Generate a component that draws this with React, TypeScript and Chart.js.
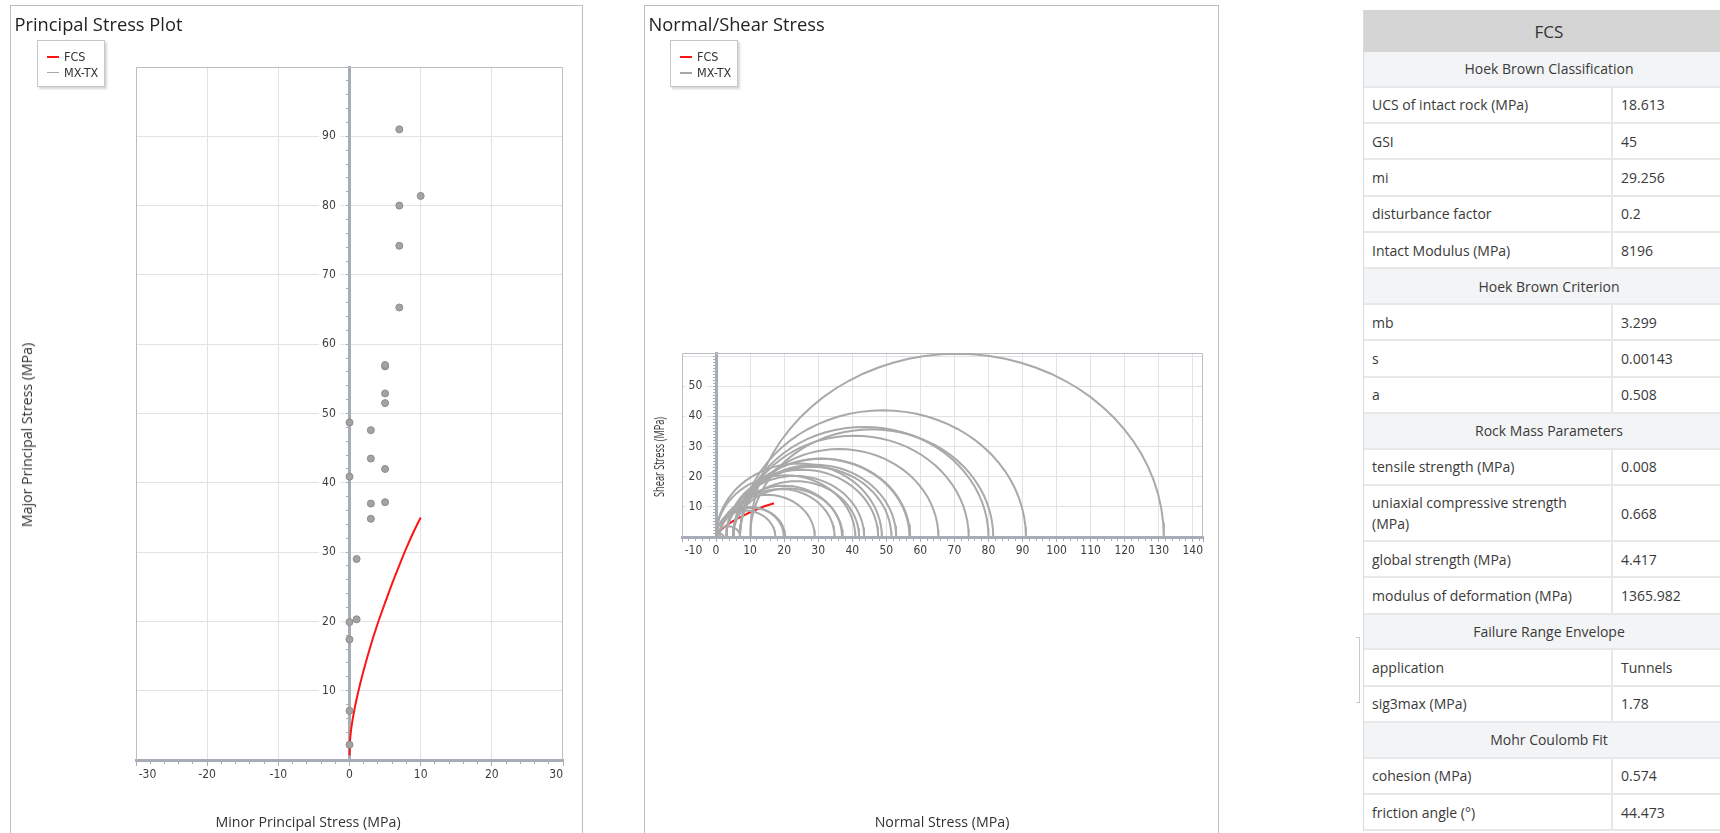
import React, { useEffect, useRef } from 'react';
import { Chart, registerables } from 'chart.js';

Chart.register(...registerables);

// ---------------- data ----------------
// MX-TX triaxial tests: minor (sigma3) and major (sigma1) principal stress, MPa
const sigma3Tests = [0, 0, 0, 0, 1, 1, 3, 3, 5, 0, 5, 3, 3, 0, 5, 5, 5, 5, 7, 7, 7, 10, 7, 10];
const sigma1Tests = [2.2, 7.1, 17.4, 19.9, 20.3, 29.0, 34.8, 37.0, 37.2, 40.9, 42.0, 43.5, 47.6, 48.7, 51.5, 52.9, 56.8, 57.0, 65.3, 74.2, 80.0, 81.4, 91.0, 131.5];

// FCS failure envelope in principal stress space (MPa)
const fcsSigma3 = [0, 0.05, 0.15, 0.4, 0.7, 1.0, 1.5, 2, 3, 4, 5, 6, 7, 8, 9, 10];
const fcsSigma1 = [0.67, 2.3, 3.7, 5.6, 7.3, 8.8, 11.0, 13.0, 16.6, 19.8, 22.7, 25.5, 28.1, 30.6, 32.9, 35.0];

// FCS failure envelope in normal / shear stress space (MPa)
const fcsNormal = [0.3, 1, 2, 4, 6, 8, 10, 12, 14, 17];
const fcsShear = [0.6, 1.9, 2.9, 4.6, 5.9, 7.1, 8.2, 9.2, 10.1, 11.2];

// axes
const principalXTicks = [-30, -20, -10, 0, 10, 20, 30];
const principalYTicks = [10, 20, 30, 40, 50, 60, 70, 80, 90];
const principalXRange = [-30, 30];
const principalYRange = [0, 100];
const mohrXTicks = [-10, 0, 10, 20, 30, 40, 50, 60, 70, 80, 90, 100, 110, 120, 130, 140];
const mohrYTicks = [10, 20, 30, 40, 50, 60];
const mohrYLabels = [10, 20, 30, 40, 50];
const mohrXRange = [-10, 143];
const mohrYRange = [0, 61];

// table
const tableTitle = 'FCS';
const hoekBrownClassification = [
  ['UCS of intact rock (MPa)', '18.613'],
  ['GSI', '45'],
  ['mi', '29.256'],
  ['disturbance factor', '0.2'],
  ['Intact Modulus (MPa)', '8196'],
];
const hoekBrownCriterion = [
  ['mb', '3.299'],
  ['s', '0.00143'],
  ['a', '0.508'],
];
const rockMassParameters = [
  ['tensile strength (MPa)', '0.008'],
  ['uniaxial compressive strength (MPa)', '0.668'],
  ['global strength (MPa)', '4.417'],
  ['modulus of deformation (MPa)', '1365.982'],
];
const failureRangeEnvelope = [
  ['application', 'Tunnels'],
  ['sig3max (MPa)', '1.78'],
];
const mohrCoulombFit = [
  ['cohesion (MPa)', '0.574'],
  ['friction angle (°)', '44.473'],
];

// ---------------- styles ----------------
const RED = '#ff1414';
const CIRCLE = '#a9a9a9';
const POINT_FILL = '#a3a3a3';
const POINT_BORDER = '#8c8c8c';
const AXIS = '#a6adb7';
const GRID = '#e1e2e4';
const FRAME = '#b9bec6';
const TICK_TEXT = '#3d3d3d';
const PANEL = '#b8bdc6';
const FONT_NARROW = '"Liberation Sans Narrow", "Arial Narrow", "DejaVu Sans Condensed", "Roboto Condensed", Roboto, sans-serif';
const FONT_UI = '"Open Sans", "Noto Sans", sans-serif';
const tickFont = { family: FONT_NARROW, size: 12 };
const LABEL_PAD = '\u2007\u2007';
const EDGE_PAD = '\u2005';

const framePlugin = {
  id: 'plotFrame',
  beforeDatasetsDraw(chart: any) {
    const { ctx, chartArea } = chart;
    const l = Math.round(chartArea.left) + 0.5;
    const r = Math.round(chartArea.right) - 0.5;
    const t = Math.round(chartArea.top) + 0.5;
    const b = chartArea.bottom;
    ctx.save();
    ctx.strokeStyle = FRAME;
    ctx.lineWidth = 1;
    ctx.beginPath();
    ctx.moveTo(l, b);
    ctx.lineTo(l, t);
    ctx.lineTo(r, t);
    ctx.lineTo(r, b);
    ctx.stroke();
    ctx.restore();
  },
};

function stepTicks(min: number, max: number, step: number) {
  const out: { value: number }[] = [];
  for (let v = min; v <= max + 1e-9; v += step) out.push({ value: Math.round(v * 1000) / 1000 });
  return out;
}

function baseOptions(padding: any) {
  return {
    animation: false,
    responsive: false,
    devicePixelRatio: 1,
    events: [],
    layout: { padding },
    plugins: { legend: { display: false }, tooltip: { enabled: false } },
  };
}

function principalConfig(): any {
  return {
    type: 'scatter',
    data: {
      datasets: [
        {
          label: 'FCS',
          data: fcsSigma3.map((x, i) => ({ x, y: fcsSigma1[i] })),
          showLine: true,
          borderColor: RED,
          borderWidth: 2,
          pointRadius: 0,
          cubicInterpolationMode: 'monotone',
          order: 1,
        },
        {
          label: 'MX-TX',
          data: sigma3Tests.map((x, i) => ({ x, y: sigma1Tests[i] })),
          showLine: false,
          pointRadius: 3.5,
          pointBackgroundColor: POINT_FILL,
          pointBorderColor: POINT_BORDER,
          pointBorderWidth: 1,
          order: 0,
        },
      ],
    },
    options: {
      ...baseOptions({ left: 125, right: 18, top: 61, bottom: 0 }),
      scales: {
        x: {
          type: 'linear',
          position: 'bottom',
          min: principalXRange[0],
          max: principalXRange[1],
          afterBuildTicks: (s: any) => { s.ticks = principalXTicks.map((value) => ({ value })); },
          afterFit: (s: any) => { s.height = 72; },
          grid: {
            color: (c: any) => (c.tick && c.tick.value !== 0 && c.tick.value > principalXRange[0] && c.tick.value < principalXRange[1] ? GRID : 'rgba(0,0,0,0)'),
            tickColor: AXIS,
            tickLength: 6,
          },
          border: { color: AXIS, width: 3 },
          ticks: {
            align: 'inner', autoSkip: false, maxRotation: 0, padding: 2, color: TICK_TEXT, font: tickFont,
            callback: (v: any) => (v === principalXRange[0] ? EDGE_PAD + String(v) : String(v)),
          },
        },
        y: {
          type: 'linear',
          position: { x: 0 },
          min: principalYRange[0],
          max: principalYRange[1],
          afterBuildTicks: (s: any) => { s.ticks = principalYTicks.map((value) => ({ value })); },
          grid: { color: GRID, drawTicks: false },
          border: { color: AXIS, width: 3 },
          ticks: {
            autoSkip: false,
            color: TICK_TEXT,
            font: tickFont,
            callback: (v: any) => String(v) + LABEL_PAD,
            showLabelBackdrop: true,
            backdropColor: '#ffffff',
            backdropPadding: { top: 1, bottom: 1, left: 3, right: -9 },
          },
        },
        xMinor: {
          type: 'linear',
          axis: 'x',
          position: { y: 0 },
          min: principalXRange[0],
          max: principalXRange[1],
          afterBuildTicks: (s: any) => { s.ticks = stepTicks(principalXRange[0], principalXRange[1], 2); },
          grid: { drawOnChartArea: false, color: AXIS, tickLength: 4 },
          border: { display: false },
          ticks: { display: false },
        },
        yMinor: {
          type: 'linear',
          axis: 'y',
          position: { x: 0 },
          min: principalYRange[0],
          max: principalYRange[1],
          afterBuildTicks: (s: any) => { s.ticks = stepTicks(principalYRange[0], principalYRange[1], 2); },
          grid: { drawOnChartArea: false, color: AXIS, tickLength: 4 },
          border: { display: false },
          ticks: { display: false },
        },
      },
    },
    plugins: [framePlugin],
  };
}

function mohrCircle(s3: number, s1: number) {
  const c = (s1 + s3) / 2;
  const r = (s1 - s3) / 2;
  const pts: { x: number; y: number }[] = [];
  const n = 40;
  for (let k = 0; k <= n; k++) {
    const a = Math.PI - (Math.PI * k) / n;
    pts.push({ x: c + r * Math.cos(a), y: r * Math.sin(a) });
  }
  return pts;
}

function mohrConfig(): any {
  const circles = sigma3Tests.map((s3, i) => ({
    label: 'MX-TX',
    data: mohrCircle(s3, sigma1Tests[i]),
    showLine: true,
    borderColor: CIRCLE,
    borderWidth: 2,
    pointRadius: 0,
    order: 0,
  }));
  return {
    type: 'scatter',
    data: {
      datasets: [
        {
          label: 'FCS',
          data: fcsNormal.map((x, i) => ({ x, y: fcsShear[i] })),
          showLine: true,
          borderColor: RED,
          borderWidth: 2,
          pointRadius: 0,
          order: 1,
        },
        ...circles,
      ],
    },
    options: {
      ...baseOptions({ left: 37, right: 14, top: 347, bottom: 0 }),
      scales: {
        x: {
          type: 'linear',
          position: 'bottom',
          min: mohrXRange[0],
          max: mohrXRange[1],
          afterBuildTicks: (s: any) => { s.ticks = [...mohrXTicks, mohrXRange[1]].map((value) => ({ value })); },
          afterFit: (s: any) => { s.height = 295; },
          grid: {
            color: (c: any) => (c.tick && c.tick.value > 0 && c.tick.value < mohrXRange[1] ? GRID : 'rgba(0,0,0,0)'),
            tickColor: AXIS,
            tickLength: 5,
          },
          border: { color: AXIS, width: 3 },
          ticks: {
            align: 'inner', autoSkip: false, maxRotation: 0, padding: 2, color: TICK_TEXT, font: tickFont,
            callback: (v: any) => (v === mohrXRange[0] ? EDGE_PAD + String(v) : mohrXTicks.includes(v) ? String(v) : ''),
          },
        },
        y: {
          type: 'linear',
          position: { x: 0 },
          min: mohrYRange[0],
          max: mohrYRange[1],
          afterBuildTicks: (s: any) => { s.ticks = mohrYTicks.map((value) => ({ value })); },
          grid: { color: GRID, drawTicks: false },
          border: { color: AXIS, width: 3 },
          ticks: {
            autoSkip: false,
            color: TICK_TEXT,
            font: tickFont,
            callback: (v: any) => (mohrYLabels.includes(v) ? String(v) + LABEL_PAD : ''),
            showLabelBackdrop: (c: any) => !!(c.tick && mohrYLabels.includes(c.tick.value)),
            backdropColor: '#ffffff',
            backdropPadding: { top: 1, bottom: 1, left: 3, right: -9 },
          },
        },
        xMinor: {
          type: 'linear',
          axis: 'x',
          position: { y: 0 },
          min: mohrXRange[0],
          max: mohrXRange[1],
          afterBuildTicks: (s: any) => { s.ticks = stepTicks(mohrXRange[0], mohrXRange[1], 2); },
          grid: { drawOnChartArea: false, color: AXIS, tickLength: 4 },
          border: { display: false },
          ticks: { display: false },
        },
        yMinor: {
          type: 'linear',
          axis: 'y',
          position: { x: 0 },
          min: mohrYRange[0],
          max: mohrYRange[1],
          afterBuildTicks: (s: any) => { s.ticks = stepTicks(mohrYRange[0], mohrYRange[1], 1); },
          grid: { drawOnChartArea: false, color: AXIS, tickLength: 3 },
          border: { display: false },
          ticks: { display: false },
        },
      },
    },
    plugins: [framePlugin],
  };
}

function ChartCanvas({ config, left, top, width, height }: any) {
  const ref = useRef<HTMLCanvasElement | null>(null);
  useEffect(() => {
    const chart = new Chart(ref.current as HTMLCanvasElement, config());
    return () => chart.destroy();
  }, []);
  return (
    <canvas
      ref={ref}
      width={width}
      height={height}
      style={{ position: 'absolute', left, top, width, height, display: 'block' }}
    />
  );
}

const legendItems = [
  { label: 'FCS', color: RED },
  { label: 'MX-TX', color: '#a8a8a8' },
];

function Legend({ left, top, thinSecond }: any) {
  return (
    <div
      style={{
        position: 'absolute', left, top, width: 66, height: 45,
        border: '1px solid #c4c6ca', background: '#fff',
        boxShadow: '2px 2px 2px rgba(0,0,0,0.16)',
        fontFamily: FONT_NARROW, fontSize: 12.5, color: '#333',
      }}
    >
      {legendItems.map((it, i) => (
        <div key={it.label} style={{ position: 'absolute', left: 9, top: 8 + i * 15.7, height: 16, display: 'flex', alignItems: 'center', whiteSpace: 'nowrap' }}>
          <span style={{ display: 'inline-block', width: 12, height: i === 1 && thinSecond ? 1 : 2, background: it.color, marginRight: 5 }} />
          <span style={{ lineHeight: '16px' }}>{it.label}</span>
        </div>
      ))}
    </div>
  );
}

function Text({ x, y, size, children, rotate, squeeze, color }: any) {
  const t = rotate
    ? `translate(-50%, -50%) rotate(-90deg)${squeeze ? ` scaleX(${squeeze})` : ''}`
    : 'translate(-50%, -50%)';
  return (
    <div style={{ position: 'absolute', left: x, top: y, transform: t, whiteSpace: 'nowrap', fontFamily: FONT_UI, fontSize: size, lineHeight: '20px', color: color || '#333' }}>
      {children}
    </div>
  );
}

function DataTable() {
  const cellText: any = { fontFamily: FONT_UI, fontSize: 14, color: '#3a3a3a' };
  const section = (title: string, rows: string[][]) => (
    <React.Fragment key={title}>
      <div style={{ height: 35.5, boxSizing: 'border-box', background: '#f3f4f5', borderBottom: '2px solid #e7e8ea', display: 'flex', alignItems: 'center', justifyContent: 'center', ...cellText }}>{title}</div>
      {rows.map(([k, v]) => {
        const tall = k.length > 30;
        return (
          <div key={k} style={{ height: tall ? 56 : 36.4, boxSizing: 'border-box', borderBottom: '2px solid #e7e8ea', display: 'flex', background: '#fff' }}>
            <div style={{ width: 249, boxSizing: 'border-box', padding: '0 8px', borderRight: '2px solid #e7e8ea', display: 'flex', alignItems: 'center', lineHeight: '21px', ...cellText }}>
              {tall ? <span>uniaxial compressive strength<br />(MPa)</span> : k}
            </div>
            <div style={{ flex: 1, padding: '0 8px', display: 'flex', alignItems: 'center', ...cellText }}>{v}</div>
          </div>
        );
      })}
    </React.Fragment>
  );
  return (
    <div style={{ position: 'absolute', left: 1363, top: 10, width: 370, borderLeft: '1px solid #dcdcdc' }}>
      <div style={{ height: 42, background: '#d5d5d5', display: 'flex', alignItems: 'center', justifyContent: 'center', fontFamily: FONT_UI, fontSize: 17, color: '#333' }}>{tableTitle}</div>
      {section('Hoek Brown Classification', hoekBrownClassification)}
      {section('Hoek Brown Criterion', hoekBrownCriterion)}
      {section('Rock Mass Parameters', rockMassParameters)}
      {section('Failure Range Envelope', failureRangeEnvelope)}
      {section('Mohr Coulomb Fit', mohrCoulombFit)}
    </div>
  );
}

export default function App() {
  return (
    <div style={{ position: 'fixed', left: 0, top: 0, width: 1720, height: 833, overflow: 'hidden', background: '#fff' }}>
      {/* left panel */}
      <div style={{ position: 'absolute', left: 10, top: 5, width: 571, height: 900, border: `1px solid ${PANEL}` }} />
      <ChartCanvas config={principalConfig} left={11} top={6} width={570} height={826} />
      <div style={{ position: 'absolute', left: 14.5, top: 11.5, fontFamily: FONT_UI, fontSize: 18.3, lineHeight: '24px', color: '#222', whiteSpace: 'nowrap' }}>Principal Stress Plot</div>
      <Legend left={37} top={40} thinSecond />
      <Text x={26.5} y={435} size={14.2} rotate>Major Principal Stress (MPa)</Text>
      <Text x={308} y={822} size={14.2}>Minor Principal Stress (MPa)</Text>

      {/* middle panel */}
      <div style={{ position: 'absolute', left: 644, top: 5, width: 573, height: 900, border: `1px solid ${PANEL}` }} />
      <ChartCanvas config={mohrConfig} left={645} top={6} width={572} height={826} />
      <div style={{ position: 'absolute', left: 648.5, top: 11.5, fontFamily: FONT_UI, fontSize: 18.3, lineHeight: '24px', color: '#222', whiteSpace: 'nowrap' }}>Normal/Shear Stress</div>
      <Legend left={670} top={40} />
      <Text x={659} y={457} size={14.2} rotate squeeze={0.65}>Shear Stress (MPa)</Text>
      <Text x={942} y={822} size={14.2}>Normal Stress (MPa)</Text>

      {/* right table */}
      <div style={{ position: 'absolute', left: 1356, top: 637, width: 3, height: 64, borderTop: '1px solid #c9c9c9', borderBottom: '1px solid #c9c9c9', borderRight: '1px solid #c9c9c9' }} />
      <DataTable />
    </div>
  );
}
